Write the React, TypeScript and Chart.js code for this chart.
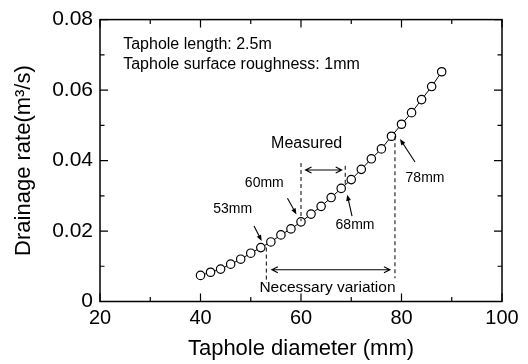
import React, { useEffect, useRef } from "react";
import { Chart, registerables } from "chart.js";

Chart.register(...registerables);

// ---- data ----
const diameters = [40, 42, 44, 46, 48, 50, 52, 54, 56, 58, 60, 62, 64, 66, 68, 70, 72, 74, 76, 78, 80, 82, 84, 86, 88];
const drainageRates = [
  0.0074, 0.0083, 0.0092, 0.0106, 0.012, 0.0137, 0.0153, 0.0169, 0.0189, 0.0206, 0.0226, 0.0248, 0.027,
  0.0295, 0.0321, 0.0346, 0.0375, 0.0405, 0.0433, 0.0469, 0.0503, 0.0536, 0.0573, 0.061, 0.0652,
];
const xMajorTicks = [20, 40, 60, 80, 100];
const xMinorTicks = [30, 50, 70, 90];
const yMajorTicks = [0, 0.02, 0.04, 0.06, 0.08];
const yMinorTicks = [0.01, 0.03, 0.05, 0.07];
const yTickLabels = ["0", "0.02", "0.04", "0.06", "0.08"];
const xTitle = "Taphole diameter (mm)";
const yTitle = "Drainage rate(m³/s)";
const infoLines = ["Taphole length: 2.5m", "Taphole surface roughness: 1mm"];

// ---- annotations (data coordinates) ----
const dashedLines = [
  { x: 53.1, y1: 0.0153, y2: 0.0052 },
  { x: 60.0, y1: 0.0393, y2: 0.0228 },
  { x: 68.8, y1: 0.0385, y2: 0.0331 },
  { x: 78.7, y1: 0.0469, y2: 0.0066 },
];
const pointerArrows = [
  { x1: 50.65, y1: 0.0214, x2: 52.18, y2: 0.0172 },
  { x1: 57.3, y1: 0.0293, x2: 59.1, y2: 0.0247 },
  { x1: 70.15, y1: 0.0242, x2: 69.2, y2: 0.0303 },
  { x1: 82.69, y1: 0.0396, x2: 79.7, y2: 0.0461 },
];
const doubleArrows = [
  { x1: 60.9, x2: 68.1, y: 0.0373 },
  { x1: 54.2, x2: 77.7, y: 0.009 },
];
const textNotes = [
  { text: "53mm", x: 46.4, y: 0.0251, size: 14, align: "center" },
  { text: "60mm", x: 52.7, y: 0.0326, size: 14, align: "center" },
  { text: "68mm", x: 70.75, y: 0.0205, size: 14, align: "center" },
  { text: "78mm", x: 84.68, y: 0.0338, size: 14, align: "center" },
  { text: "Measured", x: 61.13, y: 0.0435, size: 16, align: "center" },
  { text: "Necessary variation", x: 65.27, y: 0.0027, size: 15.5, align: "center" },
  { text: infoLines[0], x: 24.62, y: 0.0716, size: 16, align: "left" },
  { text: infoLines[1], x: 24.62, y: 0.066, size: 16, align: "left" },
];

const FONT = "'Liberation Sans', Arial, Helvetica, sans-serif";

const framePlugin = {
  id: "frameAndNotes",
  afterDraw(chart: any) {
    const ctx = chart.ctx;
    const { left, right, top, bottom } = chart.chartArea;
    const xs = chart.scales.x;
    const ys = chart.scales.y;
    ctx.save();
    ctx.strokeStyle = "#000";
    ctx.fillStyle = "#000";

    // frame
    ctx.lineWidth = 1.5;
    ctx.strokeRect(left, top, right - left, bottom - top);

    // inward ticks
    ctx.lineWidth = 1.2;
    const tick = (vals: number[], len: number) => {
      vals.forEach((v) => {
        const px = xs.getPixelForValue(v);
        ctx.beginPath();
        ctx.moveTo(px, bottom);
        ctx.lineTo(px, bottom - len);
        ctx.moveTo(px, top);
        ctx.lineTo(px, top + len);
        ctx.stroke();
      });
    };
    const ytick = (vals: number[], len: number) => {
      vals.forEach((v) => {
        const py = ys.getPixelForValue(v);
        ctx.beginPath();
        ctx.moveTo(left, py);
        ctx.lineTo(left + len, py);
        ctx.moveTo(right, py);
        ctx.lineTo(right - len, py);
        ctx.stroke();
      });
    };
    tick(xMajorTicks, 8);
    tick(xMinorTicks, 4.5);
    ytick(yMajorTicks, 8);
    ytick(yMinorTicks, 4.5);

    // dashed lines
    ctx.lineWidth = 1;
    ctx.setLineDash([4, 3]);
    dashedLines.forEach((d) => {
      const px = xs.getPixelForValue(d.x);
      ctx.beginPath();
      ctx.moveTo(px, ys.getPixelForValue(d.y1));
      ctx.lineTo(px, ys.getPixelForValue(d.y2));
      ctx.stroke();
    });
    ctx.setLineDash([]);

    // pointer arrows
    pointerArrows.forEach((a) => {
      const x1 = xs.getPixelForValue(a.x1);
      const y1 = ys.getPixelForValue(a.y1);
      const x2 = xs.getPixelForValue(a.x2);
      const y2 = ys.getPixelForValue(a.y2);
      const ang = Math.atan2(y2 - y1, x2 - x1);
      ctx.lineWidth = 1.1;
      ctx.beginPath();
      ctx.moveTo(x1, y1);
      ctx.lineTo(x2 - Math.cos(ang) * 3, y2 - Math.sin(ang) * 3);
      ctx.stroke();
      const hl = 6.5;
      const hw = 0.38;
      ctx.beginPath();
      ctx.moveTo(x2, y2);
      ctx.lineTo(x2 - hl * Math.cos(ang - hw), y2 - hl * Math.sin(ang - hw));
      ctx.lineTo(x2 - hl * Math.cos(ang + hw), y2 - hl * Math.sin(ang + hw));
      ctx.closePath();
      ctx.fill();
    });

    // double arrows
    doubleArrows.forEach((a) => {
      const x1 = xs.getPixelForValue(a.x1);
      const x2 = xs.getPixelForValue(a.x2);
      const y = ys.getPixelForValue(a.y);
      ctx.lineWidth = 1.1;
      ctx.beginPath();
      ctx.moveTo(x1, y);
      ctx.lineTo(x2, y);
      ctx.moveTo(x1 + 6, y - 3);
      ctx.lineTo(x1, y);
      ctx.lineTo(x1 + 6, y + 3);
      ctx.moveTo(x2 - 6, y - 3);
      ctx.lineTo(x2, y);
      ctx.lineTo(x2 - 6, y + 3);
      ctx.stroke();
    });

    // text notes
    ctx.textBaseline = "alphabetic";
    textNotes.forEach((t) => {
      ctx.font = `${t.size}px ${FONT}`;
      ctx.textAlign = t.align as CanvasTextAlign;
      ctx.fillText(t.text, xs.getPixelForValue(t.x), ys.getPixelForValue(t.y));
    });

    ctx.restore();
  },
};

export default function App() {
  const canvasRef = useRef<HTMLCanvasElement | null>(null);

  useEffect(() => {
    if (!canvasRef.current) return;
    const points = diameters.map((d, i) => ({ x: d, y: drainageRates[i] }));
    const chart = new Chart(canvasRef.current, {
      type: "scatter",
      data: {
        datasets: [
          {
            data: points,
            showLine: true,
            borderColor: "#000",
            borderWidth: 1,
            pointRadius: 4.2,
            pointBackgroundColor: "#fff",
            pointBorderColor: "#000",
            pointBorderWidth: 1.2,
          },
        ],
      },
      options: {
        responsive: false,
        animation: false,
        devicePixelRatio: 1,
        layout: { padding: { top: 15.5, right: 26, left: 0, bottom: 0 } },
        plugins: { legend: { display: false }, tooltip: { enabled: false } },
        scales: {
          x: {
            type: "linear",
            min: 20,
            max: 100,
            afterBuildTicks: (s: any) => {
              s.ticks = xMajorTicks.map((v) => ({ value: v }));
            },
            ticks: { color: "#000", font: { size: 20, family: FONT }, padding: 5, maxRotation: 0 },
            grid: { display: false, drawTicks: false },
            border: { display: false },
            title: {
              display: true,
              text: xTitle,
              color: "#000",
              font: { size: 22, family: FONT },
              padding: { top: 0, bottom: 2 },
            },
            afterFit: (s: any) => {
              s.height = 62.5;
            },
          },
          y: {
            type: "linear",
            min: 0,
            max: 0.08,
            afterBuildTicks: (s: any) => {
              s.ticks = yMajorTicks.map((v) => ({ value: v }));
            },
            ticks: {
              color: "#000",
              font: { size: 21, family: FONT },
              padding: 7,
              callback: (v: any) => {
                const i = yMajorTicks.findIndex((t) => Math.abs(t - Number(v)) < 1e-9);
                return i >= 0 ? yTickLabels[i] : "";
              },
            },
            grid: { display: false, drawTicks: false },
            border: { display: false },
            title: {
              display: true,
              text: yTitle,
              color: "#000",
              font: { size: 22, family: FONT },
              padding: { top: 11, bottom: 0 },
            },
            afterFit: (s: any) => {
              s.width = 100;
            },
          },
        },
      },
      plugins: [framePlugin],
    } as any);
    return () => chart.destroy();
  }, []);

  return (
    <div style={{ position: "fixed", left: 0, top: 0, width: 528, height: 364, background: "#fff" }}>
      <canvas ref={canvasRef} width={528} height={364} style={{ display: "block" }} />
    </div>
  );
}
